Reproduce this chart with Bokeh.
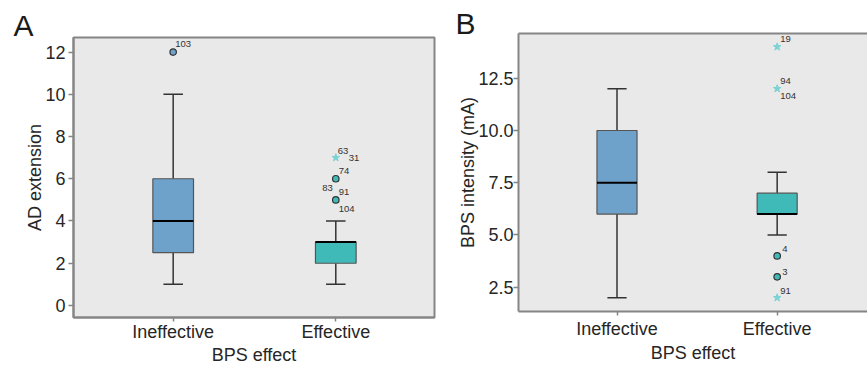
from bokeh.plotting import figure
from bokeh.layouts import row
from bokeh.models import Range1d, FixedTicker, LinearAxis, ColumnDataSource, PrintfTickFormatter
from bokeh.embed import file_html
from bokeh.resources import INLINE
from bokeh.core.properties import value

# ---------------- data ----------------
categories = ["Ineffective", "Effective"]

# Panel A: AD extension
a_min = [1, 1]
a_q1 = [2.5, 2]
a_med = [4, 3]
a_q3 = [6, 3]
a_max = [10, 4]
a_circ_cat = [0, 1, 1]
a_circ_val = [12, 6, 5]
a_star_cat = [1]
a_star_val = [7]
a_lab_cat = [0, 1, 1, 1, 1, 1, 1]
a_lab_val = [12, 7, 7, 6, 5, 5, 5]
a_lab_txt = ["103", "63", "31", "74", "83", "91", "104"]
a_yticks = [0, 2, 4, 6, 8, 10, 12]

# Panel B: BPS intensity (mA)
b_min = [2, 5]
b_q1 = [6, 6]
b_med = [7.5, 6]
b_q3 = [10, 7]
b_max = [12, 8]
b_circ_cat = [1, 1]
b_circ_val = [4, 3]
b_star_cat = [1, 1, 1]
b_star_val = [14, 12, 2]
b_lab_cat = [1, 1, 1, 1, 1, 1]
b_lab_val = [14, 12, 12, 4, 3, 2]
b_lab_txt = ["19", "94", "104", "4", "3", "91"]
b_yticks = [2.5, 5.0, 7.5, 10.0, 12.5]

# ---------------- styles ----------------
box_colors = ["#6fa2ca", "#40bab8"]
star_color = "#79d3d3"
bg = "#e9e9e9"
border = "#858585"
txt = "#262626"
FONT = "Liberation Sans"

# label offsets (presentation)
a_lab_dx = [2, 2, 13, 3, -3, 3, 3]
a_lab_dy = [-8, -7, 0, -8, -12, -8, 9]
a_lab_align = ["left", "left", "left", "left", "right", "left", "left"]
b_lab_dx = [3, 3, 3, 5, 5, 3]
b_lab_dy = [-8, -8, 7, -7, -5, -7]
b_lab_align = ["left"] * 6


def make_panel(letter, letter_off, letter_standoff, w, h, mb_left, mb_right, mb_top, mb_bottom, xr, yr,
               q_min, q1, med, q3, q_max, circ_cat, circ_val, star_cat, star_val,
               lab_cat, lab_val, lab_txt, lab_dx, lab_dy, lab_align,
               yticks, ylabel, fmt, full_outline, ylab_standoff, x_std, xl_std):
    p = figure(width=w, height=h, output_backend="svg", toolbar_location=None,
               x_range=Range1d(*xr), y_range=Range1d(*yr),
               min_border_left=mb_left, min_border_right=mb_right,
               min_border_top=mb_top, min_border_bottom=mb_bottom)
    try:
        p.frame_align = False
    except Exception:
        pass
    p.background_fill_color = bg
    p.border_fill_color = "white"
    p.grid.visible = False

    p.title.text = letter
    p.title.align = "left"
    p.title.offset = letter_off
    p.title.standoff = letter_standoff
    p.title.text_font = FONT
    p.title.text_font_size = "30px"
    p.title.text_font_style = "normal"
    p.title.text_color = "#1a1a1a"

    xs = list(range(len(categories)))
    src = ColumnDataSource(dict(
        x=xs, q_min=q_min, q1=q1, med=med, q3=q3, q_max=q_max,
        xl=[x - 0.06 for x in xs], xr=[x + 0.06 for x in xs],
        ml=[x - 0.125 for x in xs], mr=[x + 0.125 for x in xs],
        color=box_colors))
    # whiskers
    p.segment("x", "q3", "x", "q_max", source=src, line_color="#333333", line_width=1.5)
    p.segment("x", "q1", "x", "q_min", source=src, line_color="#333333", line_width=1.5)
    p.segment("xl", "q_max", "xr", "q_max", source=src, line_color="#333333", line_width=1.5)
    p.segment("xl", "q_min", "xr", "q_min", source=src, line_color="#333333", line_width=1.5)
    # boxes
    p.vbar(x="x", width=0.25, top="q3", bottom="q1", source=src,
           fill_color="color", line_color="#555555", line_width=1.2)
    p.segment("ml", "med", "mr", "med", source=src, line_color="black", line_width=2)

    # outliers
    p.scatter(circ_cat, circ_val, marker="circle", size=6.5,
              fill_color=[box_colors[c] for c in circ_cat], line_color="#333333", line_width=1.2)
    p.scatter(star_cat, star_val, marker="star", size=8,
              fill_color=star_color, line_color=star_color)
    lsrc = ColumnDataSource(dict(x=lab_cat, y=lab_val, t=lab_txt, dx=lab_dx, dy=lab_dy, al=lab_align))
    p.text("x", "y", text="t", x_offset="dx", y_offset="dy", text_align="al", source=lsrc,
           text_baseline="middle", text_font_size="9.5px", text_color="#333333",
           text_font=value(FONT))

    # axes
    xax = p.below[0]
    yax = p.left[0]
    xax.ticker = FixedTicker(ticks=xs)
    xax.major_label_overrides = {i: c for i, c in enumerate(categories)}
    yax.ticker = FixedTicker(ticks=yticks)
    if fmt:
        yax.formatter = PrintfTickFormatter(format=fmt)
    for ax in [xax, yax]:
        ax.axis_line_color = border
        ax.axis_line_width = 2
        ax.major_tick_line_color = border
        ax.major_tick_line_width = 1.5
        ax.major_tick_out = 5
        ax.major_tick_in = 0
        ax.minor_tick_out = 0
        ax.minor_tick_in = 0
        ax.major_label_text_font = FONT
        ax.major_label_text_font_size = "18px"
        ax.major_label_text_color = txt
        ax.axis_label_text_font = FONT
        ax.axis_label_text_font_size = "18px"
        ax.axis_label_text_font_style = "normal"
        ax.axis_label_text_color = txt
    xax.major_tick_out = 4
    xax.axis_label = "BPS effect"
    yax.axis_label = ylabel
    xax.major_label_standoff = x_std
    xax.axis_label_standoff = xl_std
    yax.major_label_standoff = ylab_standoff
    yax.axis_label_standoff = -3

    if full_outline:
        p.outline_line_color = border
        p.outline_line_width = 2
    else:
        p.outline_line_color = None
        top = LinearAxis(ticker=FixedTicker(ticks=[]), major_label_text_font_size="0px",
                         major_tick_out=0, major_tick_in=0, minor_tick_out=0, minor_tick_in=0,
                         major_label_standoff=0, axis_label=None,
                         axis_line_color=border, axis_line_width=2)
        p.add_layout(top, "above")
    return p


pA = make_panel("A", -60, -9, 440, 367, 73, 6, 37, 49, (-0.613, 1.607), (-0.57, 12.69),
                a_min, a_q1, a_med, a_q3, a_max, a_circ_cat, a_circ_val, a_star_cat, a_star_val,
                a_lab_cat, a_lab_val, a_lab_txt, a_lab_dx, a_lab_dy, a_lab_align,
                a_yticks, "AD extension", None, True, 3, 0, 0)
pB = make_panel("B", -63, -13, 427, 367, 78, 0, 33, 56, (-0.615, 1.564), (1.34, 14.64),
                b_min, b_q1, b_med, b_q3, b_max, b_circ_cat, b_circ_val, b_star_cat, b_star_val,
                b_lab_cat, b_lab_val, b_lab_txt, b_lab_dx, b_lab_dy, b_lab_align,
                b_yticks, "BPS intensity (mA)", "%.1f", False, 0, 3, 1)

layout = row(pA, pB, spacing=0)
open("out.html", "w").write(file_html(layout, INLINE))
